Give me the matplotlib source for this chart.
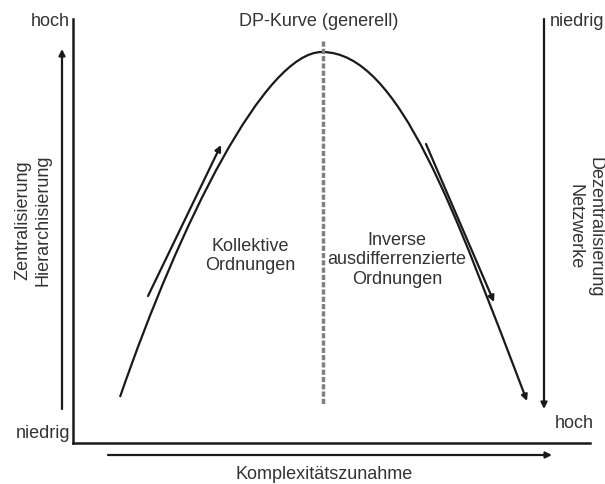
import matplotlib
matplotlib.use('Agg')
import matplotlib.pyplot as plt
from matplotlib.path import Path
from matplotlib.patches import FancyArrowPatch, PathPatch

plt.rcParams['font.family'] = ['Liberation Sans', 'DejaVu Sans']

# Diagramm in Pixelkoordinaten (605 x 485), y nach unten
# DP-Kurve: zwei kubische Bezier-Stuecke (links steigend, rechts fallend)
kurve_links = [(120, 398), (180, 224), (265, 53), (322, 53)]
kurve_rechts = [(322, 53), (400, 53), (455, 215), (527, 402)]

# Pfeile parallel zur Kurve (Start, Ende)
pfeil_links = [(148, 297), (221, 146)]
pfeil_rechts = [(426, 145), (494, 303)]

# Achsen
achse_x0, achse_y0 = 73, 444
achse_oben, achse_rechts_ende = 20, 590
pfeil_unten = [(108, 456), (552, 456)]
pfeil_li = [(62, 410), (62, 50)]
pfeil_re = [(544, 20), (544, 410)]
mitte_x, mitte_oben, mitte_unten = 323, 42, 405

texte = [
    ('hoch', 70, 21, 'right'),
    ('DP-Kurve (generell)', 319, 21, 'center'),
    ('niedrig', 550, 21, 'left'),
    ('niedrig', 70, 434, 'right'),
    ('hoch', 555, 424, 'left'),
    ('Komplexitätszunahme', 324, 475, 'center'),
    ('Kollektive\nOrdnungen', 250, 256, 'center'),
    ('Inverse\nausdifferrenzierte\nOrdnungen', 397, 260, 'center'),
]

fs = 13
farbe = '#1a1a1a'
tfarbe = '#333333'

fig = plt.figure(figsize=(6.05, 4.85), dpi=100)
ax = fig.add_axes([0, 0, 1, 1])
ax.set_xlim(0, 605)
ax.set_ylim(485, 0)
ax.axis('off')

# Achsenlinien
ax.plot([achse_x0, achse_x0], [achse_oben, achse_y0], color=farbe, lw=1.8)
ax.plot([achse_x0, achse_rechts_ende], [achse_y0, achse_y0], color=farbe, lw=1.8)

# gestrichelte Mittellinie
ax.plot([mitte_x, mitte_x], [mitte_oben, mitte_unten], color='#808080', lw=2.5,
        linestyle=(0, (1.5, 0.6)))

# Kurve
ax.add_patch(PathPatch(Path(kurve_links, [Path.MOVETO, Path.CURVE4, Path.CURVE4, Path.CURVE4]),
                       fill=False, lw=1.6, edgecolor=farbe))
ax.add_patch(FancyArrowPatch(path=Path(kurve_rechts, [Path.MOVETO, Path.CURVE4, Path.CURVE4, Path.CURVE4]),
                             arrowstyle='-|>', mutation_scale=9, lw=1.6, color=farbe))

# Pfeile
for (x0, y0), (x1, y1) in [pfeil_links, pfeil_rechts, pfeil_unten, pfeil_li, pfeil_re]:
    ax.annotate('', xy=(x1, y1), xytext=(x0, y0),
                arrowprops=dict(arrowstyle='-|>', mutation_scale=9, lw=1.6, color=farbe,
                                shrinkA=0, shrinkB=0))

for t, x, y, ha in texte:
    ax.text(x, y, t, ha=ha, va='center', fontsize=fs, color=tfarbe, linespacing=1.2)

ax.text(33, 220, 'Zentralisierung\nHierarchisierung', rotation=90, ha='center', va='center',
        fontsize=fs, color=tfarbe, linespacing=1.2)
ax.text(585, 227, 'Dezentralisierung\nNetzwerke', rotation=270, ha='center', va='center',
        fontsize=fs, color=tfarbe, linespacing=1.2)

fig.savefig('out.png', dpi=100)
